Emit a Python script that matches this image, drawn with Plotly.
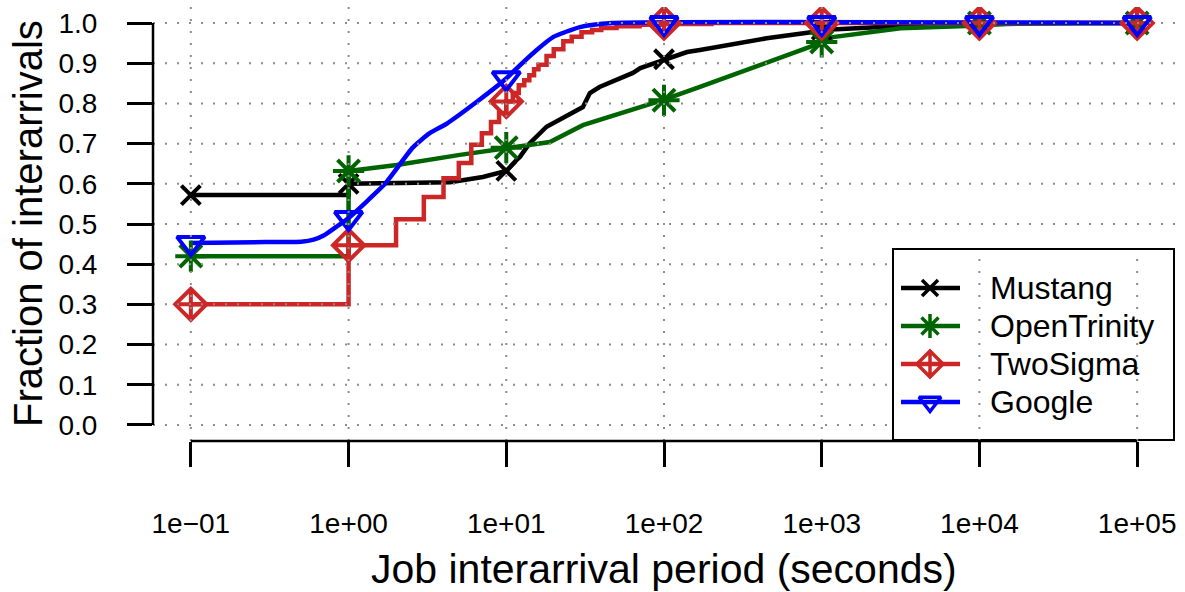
import plotly.graph_objects as go

# CDF of job interarrival periods
decades = [0.1, 1, 10, 100, 1000, 10000, 100000]
tick_text = ["1e\u221201", "1e+00", "1e+01", "1e+02", "1e+03", "1e+04", "1e+05"]
y_ticks = [0.0, 0.1, 0.2, 0.3, 0.4, 0.5, 0.6, 0.7, 0.8, 0.9, 1.0]

mustang_x = [0.1, 1, 1, 2, 4.4, 7.1, 10, 11.6, 12.2, 14, 17, 18, 30.6, 33.9, 39,
             63.5, 70.8, 98, 140, 169, 336, 447, 880, 1000, 3160, 10000, 31600, 100000]
mustang_y = [0.572, 0.572, 0.600, 0.602, 0.604, 0.617, 0.632, 0.659, 0.667, 0.700, 0.734, 0.742, 0.791, 0.826, 0.841,
             0.876, 0.888, 0.908, 0.928, 0.933, 0.955, 0.962, 0.978, 0.983, 0.993, 0.998, 1.0, 1.0]
mustang_marks = [0.572, 0.600, 0.632, 0.910, 0.983, 1.0, 1.0]

trinity_x = [0.1, 1, 1, 2.02, 5.08, 10, 17, 18.9, 30.6, 50, 98, 169, 447, 977, 1175, 3162, 8318, 15000, 100000]
trinity_y = [0.42, 0.42, 0.632, 0.647, 0.672, 0.688, 0.701, 0.704, 0.746, 0.771, 0.808, 0.841, 0.90, 0.95, 0.965,
             0.987, 0.993, 0.998, 1.0]
trinity_marks = [0.42, 0.632, 0.690, 0.808, 0.953, 1.0, 1.0]

twosigma_x = [0.1, 1, 2, 3, 4, 5, 6, 7, 8, 9, 10, 11, 12, 13, 14, 15, 16, 18, 20, 23, 26, 30,
              35, 40, 50, 70, 100, 200, 100000]
twosigma_y = [0.30, 0.447, 0.512, 0.567, 0.614, 0.652, 0.697, 0.726, 0.754, 0.776, 0.805, 0.826, 0.845, 0.858,
              0.870, 0.885, 0.896, 0.918, 0.935, 0.955, 0.966, 0.977, 0.983, 0.988, 0.992, 0.996, 0.998, 1.0, 1.0]
twosigma_marks = [0.30, 0.447, 0.805, 1.0, 1.0, 1.0, 1.0]

google_x = [0.1, 0.3, 0.5, 0.6, 0.7, 0.85, 1, 1.7, 2.55, 3.27, 4.2, 6.6, 10, 11, 15.6, 19.8, 29.3, 47, 100000]
google_y = [0.453, 0.455, 0.456, 0.461, 0.472, 0.495, 0.515, 0.600, 0.690, 0.726, 0.750, 0.806, 0.862, 0.878, 0.933,
            0.965, 0.990, 1.0, 1.0]
google_marks = [0.453, 0.515, 0.863, 1.0, 1.0, 1.0, 1.0]

# name, x, y, markers, colour, symbol, line shape, marker size, legend marker size
series = [
    ("Mustang", mustang_x, mustang_y, mustang_marks, "#000000", "x-thin-open", "linear", 19, 16),
    ("OpenTrinity", trinity_x, trinity_y, trinity_marks, "#006400", "asterisk-open", "linear", 26, 20),
    ("TwoSigma", twosigma_x, twosigma_y, twosigma_marks, "#CD2626", "diamond-cross-open", "hv", 24, 20),
    ("Google", google_x, google_y, google_marks, "#0000FF", "triangle-down-open", "spline", 24, 19),
]

FONT = "Liberation Sans, Arial, sans-serif"

fig = go.Figure()
for name, xs, ys, marks, color, symbol, shape, msize, lsize in series:
    fig.add_trace(go.Scatter(x=xs, y=ys, mode="lines", showlegend=False,
                             line=dict(color=color, width=4.5, shape=shape,
                                       smoothing=0.5 if shape == "spline" else None)))
for name, xs, ys, marks, color, symbol, shape, msize, lsize in series:
    fig.add_trace(go.Scatter(x=decades, y=marks, mode="markers", showlegend=False,
                             marker=dict(symbol=symbol, size=msize, color=color,
                                         line=dict(color=color, width=4))))

# hand-made legend box, laid out in pixel units on an overlaid axis pair
leg_left, leg_right, leg_top, leg_bottom = 893, 1174, 249, 440
row_y = [288, 326, 364, 402]
for (name, xs, ys, marks, color, symbol, shape, msize, lsize), ry in zip(series, row_y):
    fig.add_shape(type="line", xref="x2", yref="y2", x0=901, x1=960, y0=ry, y1=ry,
                  line=dict(color=color, width=4.5), layer="above")
    fig.add_trace(go.Scatter(x=[930], y=[ry], xaxis="x2", yaxis="y2", mode="markers", showlegend=False,
                             marker=dict(symbol=symbol, size=lsize, color=color,
                                         line=dict(color=color, width=3.5))))
    fig.add_annotation(text=name, xref="x2", yref="y2", x=988, y=ry, xanchor="left", yanchor="middle",
                       showarrow=False, font=dict(size=32, color="black", family=FONT))
fig.add_shape(type="rect", xref="x2", yref="y2", x0=leg_left, x1=leg_right, y0=leg_top, y1=leg_bottom,
              line=dict(color="black", width=2), layer="above")

# dotted grid drawn over the curves, stopping at the legend box
grid = dict(color="#8c8c8c", width=2, dash="2px,10px")
for d in decades:
    top = leg_top if d >= 10000 else 7
    fig.add_shape(type="line", xref="x", yref="y2", x0=d, x1=d, y0=441, y1=top, line=grid, layer="above")
for v in y_ticks:
    right = leg_left if v <= 0.4 else 1175
    fig.add_shape(type="line", xref="x2", yref="y", x0=153, x1=right, y0=v, y1=v, line=grid, layer="above")

# R-style axis lines spanning only the tick range
fig.add_shape(type="line", xref="paper", yref="y", x0=0, x1=0, y0=0, y1=1,
              line=dict(color="black", width=2.5), layer="above")
fig.add_shape(type="line", xref="x", yref="paper", x0=0.1, x1=100000, y0=0, y1=0,
              line=dict(color="black", width=2.5), layer="above")

fig.update_layout(
    xaxis=dict(type="log", range=[-1.24, 5.24], tickvals=decades, ticktext=tick_text,
               ticks="outside", ticklen=25, tickwidth=2.5, tickcolor="black",
               showgrid=False, zeroline=False, showline=False, automargin=False,
               tickfont=dict(size=28, color="black", family=FONT), ticklabelstandoff=32),
    yaxis=dict(range=[-0.04, 1.04], tickvals=y_ticks, ticktext=[f"{v:.1f}" for v in y_ticks],
               ticks="outside", ticklen=25, tickwidth=2.5, tickcolor="black",
               showgrid=False, zeroline=False, showline=False, automargin=False,
               tickfont=dict(size=28, color="black", family=FONT), ticklabelstandoff=24),
    xaxis2=dict(overlaying="x", anchor="y2", range=[153, 1175], visible=False, fixedrange=True),
    yaxis2=dict(overlaying="y", anchor="x2", range=[441, 7], visible=False, fixedrange=True),
)

fig.add_annotation(text="Fraction of interarrivals", xref="paper", yref="paper", x=0, y=0.5,
                   xanchor="center", yanchor="middle", xshift=-125, textangle=-90, showarrow=False,
                   font=dict(size=40, color="black", family=FONT))
fig.add_annotation(text="Job interarrival period (seconds)", xref="paper", yref="paper", x=0.5, y=0,
                   xanchor="center", yanchor="middle", yshift=-128, showarrow=False,
                   font=dict(size=41, color="black", family=FONT))

fig.update_layout(
    width=1185, height=592,
    margin=dict(l=153, r=10, t=7, b=151),
    plot_bgcolor="white", paper_bgcolor="white",
    font=dict(family=FONT, color="black"),
    showlegend=False,
)

# drop the page's default 8px body margin so the figure sits at the window corner
fig.write_html("out.html", config={"displayModeBar": False},
               post_script="document.body.style.margin='0px';")
